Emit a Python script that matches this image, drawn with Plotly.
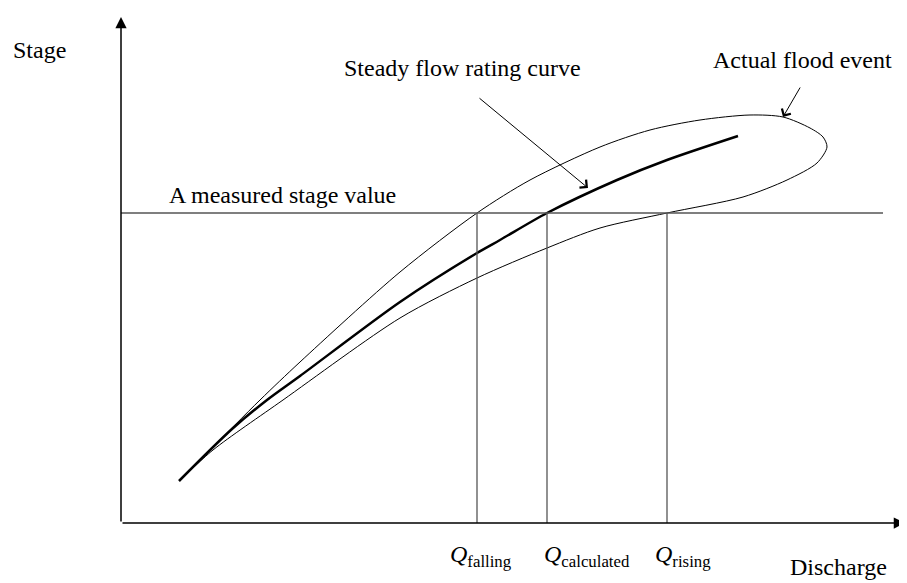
import plotly.graph_objects as go

# Coordinates: discharge (x) and stage (y), arbitrary schematic units
rating_q = [58, 111, 146, 179, 279, 356, 379, 426, 496, 546, 617]
rating_s = [42, 94, 123, 147, 221, 270, 283, 310, 343, 363, 387]

# Actual flood event loop: rising limb (lower) then falling limb (upper)
flood_q = [58, 92, 162, 279, 356, 426, 479, 546, 622, 666, 696, 706, 702,
           689, 662, 629, 579, 529, 479, 409, 356, 279, 179, 139, 89, 58]
flood_s = [42, 73, 123, 205, 245, 275, 295, 310, 326, 343, 360, 376, 386,
           395, 406, 408, 403, 393, 376, 343, 310, 251, 161, 123, 73, 42]

measured_stage = 310
stage_line_end = 762
q_falling, q_calculated, q_rising = 356, 426, 546
x_axis_end, y_axis_end = 784, 506

font = dict(family="Liberation Serif, Times New Roman, serif", size=24, color="black")

fig = go.Figure()
fig.add_trace(go.Scatter(x=flood_q, y=flood_s, mode="lines", line=dict(color="black", width=1, shape="spline", smoothing=0.8), hoverinfo="skip"))
fig.add_trace(go.Scatter(x=rating_q, y=rating_s, mode="lines", line=dict(color="black", width=2.5, shape="spline", smoothing=0.8), hoverinfo="skip"))

# measured stage line and discharge verticals
fig.add_trace(go.Scatter(x=[0, stage_line_end], y=[measured_stage, measured_stage], mode="lines", line=dict(color="#555", width=1.3), hoverinfo="skip"))
for q in (q_falling, q_calculated, q_rising):
    fig.add_trace(go.Scatter(x=[q, q], y=[0, measured_stage], mode="lines", line=dict(color="#555", width=1.3), hoverinfo="skip"))

anns = []
# axes arrows
anns.append(dict(x=0, y=y_axis_end, ax=0, ay=0, xref="x", yref="y", axref="x", ayref="y", showarrow=True, arrowhead=2, arrowsize=1.5, arrowwidth=1.5, arrowcolor="black", text=""))
anns.append(dict(x=x_axis_end, y=0, ax=0, ay=0, xref="x", yref="y", axref="x", ayref="y", showarrow=True, arrowhead=2, arrowsize=1.5, arrowwidth=1.5, arrowcolor="black", text=""))
# callout arrows
anns.append(dict(x=467, y=335, ax=357, ay=426, xref="x", yref="y", axref="x", ayref="y", showarrow=True, arrowhead=4, arrowsize=2, arrowwidth=1, arrowcolor="black", text=""))
anns.append(dict(x=662, y=406, ax=680, ay=437, xref="x", yref="y", axref="x", ayref="y", showarrow=True, arrowhead=4, arrowsize=2, arrowwidth=1, arrowcolor="black", text=""))

labels = [
    ("Stage", -110, 473),
    ("Steady flow rating curve", 221, 455),
    ("Actual flood event", 590, 463),
    ("A measured stage value", 46, 328),
    ("<i>Q</i><sub>falling</sub>", 327, -33),
    ("<i>Q</i><sub>calculated</sub>", 421, -33),
    ("<i>Q</i><sub>rising</sub>", 532, -33),
    ("Discharge", 667, -44),
]
for t, x, y in labels:
    anns.append(dict(text=t, x=x, y=y, xref="x", yref="y", showarrow=False, xanchor="left", yanchor="middle", font=font))

# ranges offset by the 8px default page margin so the drawing lands where the reference has it
fig.update_layout(
    width=907, height=583, margin=dict(l=0, r=0, t=0, b=0),
    paper_bgcolor="white", plot_bgcolor="white", showlegend=False,
    xaxis=dict(range=[-113, 794], visible=False, fixedrange=True),
    yaxis=dict(range=[-68, 515], visible=False, fixedrange=True),
    annotations=anns,
)
fig.write_html("out.html")
